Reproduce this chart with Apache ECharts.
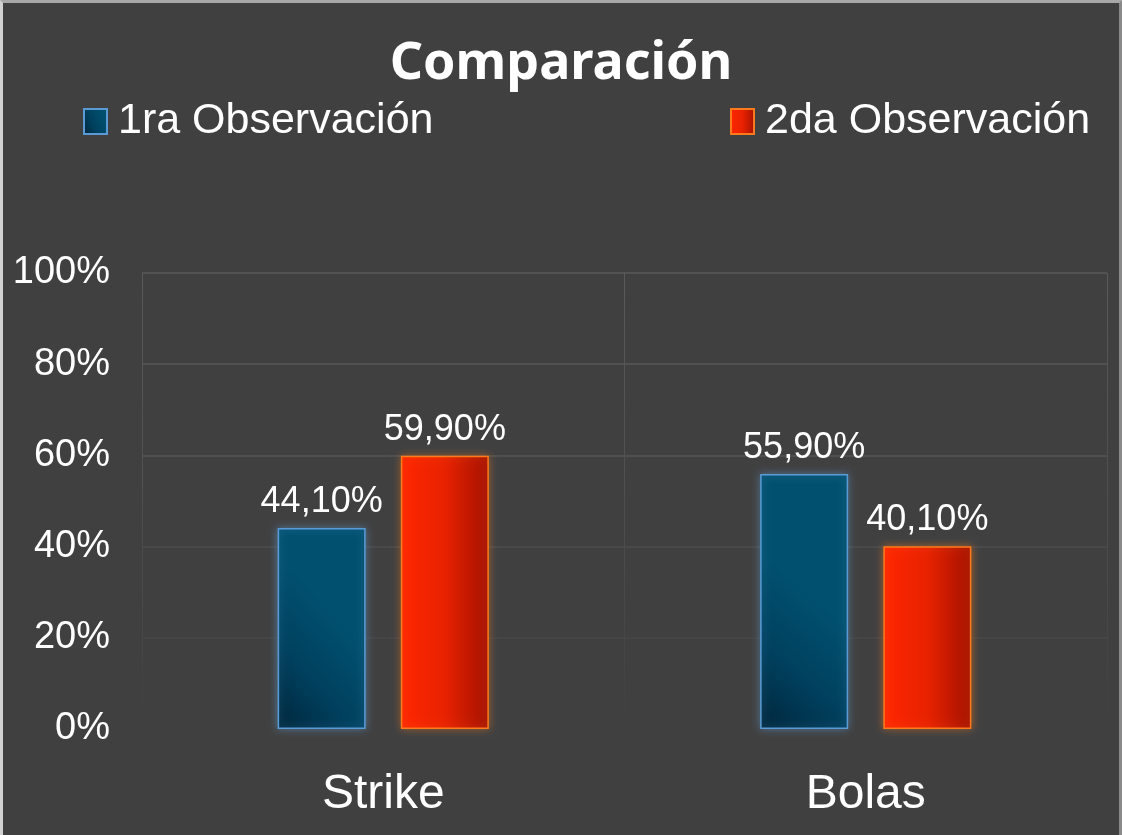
<!DOCTYPE html>
<html>
<head>
<meta charset="utf-8">
<script src="https://cdn.jsdelivr.net/npm/echarts@6/dist/echarts.min.js"></script>
<style>
html,body{margin:0;padding:0;background:#404040;}
#frame{position:absolute;left:0;top:0;width:1122px;height:835px;box-sizing:border-box;border-top:3px solid #a8a8a8;border-left:3px solid #d2d2d2;border-right:3px solid #8a8a8a;background:#404040;}
#chart{width:1116px;height:832px;}
</style>
</head>
<body>
<div id="frame"><div id="chart"></div></div>
<script>
const titleText = 'Comparación';
const categories = ['Strike', 'Bolas'];
const seriesNames = ['1ra Observación', '2da Observación'];
const obs1 = [44.1, 55.9];
const obs2 = [59.9, 40.1];
const yTicks = [0, 20, 40, 60, 80, 100];

const chart = echarts.init(document.getElementById('chart'), null, {renderer: 'canvas'});
const fmt = v => v.toFixed(2).replace('.', ',') + '%';
const sans = "'Liberation Sans', Arial, sans-serif";

const blueGrad = new echarts.graphic.LinearGradient(0, 1, 1, 0.6, [
  {offset: 0, color: '#00263b'},
  {offset: 0.5, color: '#00415f'},
  {offset: 1, color: '#01506f'}
]);
const orangeGrad = new echarts.graphic.LinearGradient(0, 0, 1, 0, [
  {offset: 0, color: '#ff2600'},
  {offset: 0.5, color: '#e82200'},
  {offset: 1, color: '#a31100'}
]);

const labelCfg = {
  show: true, position: 'top', distance: 8,
  color: '#ffffff', fontFamily: sans, fontSize: 36,
  formatter: p => fmt(p.value)
};

chart.setOption({
  backgroundColor: '#404040',
  animation: false,
  title: {
    text: titleText, left: 'center', top: 30,
    textStyle: {color: '#ffffff', fontFamily: "'Noto Sans', 'Open Sans', sans-serif", fontWeight: 'bold', fontSize: 52}
  },
  legend: [
    {data: [seriesNames[0]], left: 75, top: 92, icon: 'rect', itemWidth: 23, itemHeight: 25,
     textStyle: {color: '#ffffff', fontFamily: sans, fontSize: 43, padding: [0, 0, 0, 6]}},
    {data: [seriesNames[1]], left: 722, top: 92, icon: 'rect', itemWidth: 23, itemHeight: 25,
     textStyle: {color: '#ffffff', fontFamily: sans, fontSize: 43, padding: [0, 0, 0, 6]}}
  ],
  grid: {left: 139, right: 12, top: 270, bottom: 106},
  xAxis: {
    type: 'category', data: categories,
    axisLine: {show: false}, axisTick: {show: false},
    axisLabel: {color: '#ffffff', fontFamily: sans, fontSize: 48, margin: 42},
    splitLine: {show: true, lineStyle: {width: 1, color: new echarts.graphic.LinearGradient(0, 0, 0, 1, [
      {offset: 0, color: '#5a5a5a'}, {offset: 0.6, color: '#4c4c4c'}, {offset: 1, color: '#404040'}
    ])}}
  },
  yAxis: {
    type: 'value', min: 0, max: 100, interval: 20,
    axisLine: {show: false}, axisTick: {show: false},
    axisLabel: {color: '#ffffff', fontFamily: sans, fontSize: 38, margin: 32,
      formatter: v => yTicks.includes(v) ? v + '%' : ''},
    splitLine: {show: true, lineStyle: {width: 1.5, color: ['#404040', '#474747', '#4d4d4d', '#555555', '#575757', '#585858']}}
  },
  series: [
    {name: seriesNames[0], type: 'bar', data: obs1, barWidth: 88, barGap: '40%',
     itemStyle: {color: blueGrad, borderColor: '#5b9bd5', borderWidth: 1.5,
       shadowBlur: 8, shadowColor: 'rgba(91,155,213,0.55)'},
     label: labelCfg},
    {name: seriesNames[1], type: 'bar', data: obs2, barWidth: 88, barGap: '40%',
     itemStyle: {color: orangeGrad, borderColor: '#ff7a1a', borderWidth: 1.5,
       shadowBlur: 8, shadowColor: 'rgba(255,122,26,0.5)'},
     label: labelCfg}
  ]
});
</script>
</body>
</html>
